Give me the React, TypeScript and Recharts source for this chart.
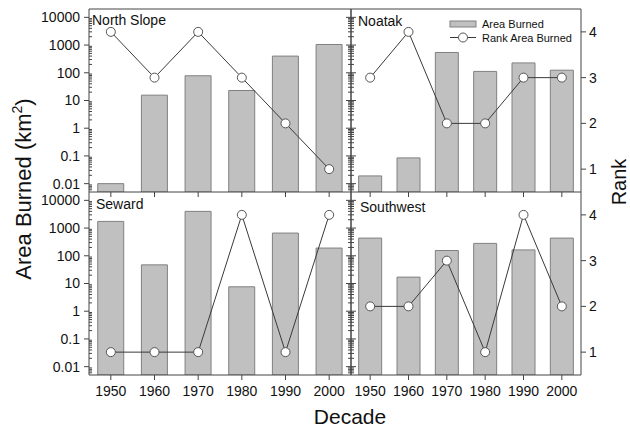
import React from "react";
import { ComposedChart, Bar, Line, XAxis, YAxis } from "recharts";

// decades on the x axis
const decades = ["1950", "1960", "1970", "1980", "1990", "2000"];

// area burned (km2) per decade
const northSlopeArea = [0.01, 15.6, 78, 23, 400, 1050];
const noatakArea = [0.019, 0.085, 540, 112, 227, 124];
const sewardArea = [1740, 47, 4000, 7.6, 660, 190];
const southwestArea = [435, 17, 155, 280, 163, 435];

// rank of area burned per decade
const northSlopeRank = [4, 3, 4, 3, 2, 1];
const noatakRank = [3, 4, 2, 2, 3, 3];
const sewardRank = [1, 1, 1, 4, 1, 4];
const southwestRank = [2, 2, 3, 1, 4, 2];

const areaTicks = [0.01, 0.1, 1, 10, 100, 1000, 10000];
const areaTickLabels = ["0.01", "0.1", "1", "10", "100", "1000", "10000"];
const rankTicks = [1, 2, 3, 4];

const AREA_DOMAIN = [0.005, 20000];
const RANK_DOMAIN = [0.5, 4.5];

// minor log ticks (2..9 x each decade) for the axis decoration
const minorTicks: number[] = [];
for (let e = -3; e <= 4; e++) {
  for (let m = 2; m <= 9; m++) {
    const v = +(m * Math.pow(10, e)).toPrecision(3);
    if (v > AREA_DOMAIN[0] && v < AREA_DOMAIN[1]) minorTicks.push(v);
  }
}
const allAreaTicks = [...areaTicks, ...minorTicks].sort((a, b) => a - b);

const FONT = "'Liberation Sans', Arial, sans-serif";
const AXIS = "#444";

const build = (area: number[], rank: number[]) =>
  decades.map((d, i) => ({ decade: d, area: area[i], rank: rank[i] }));

// plot area edges
const L = 89;
const M = 351;
const R = 581;
const T = 9;
const MID = 192;
const B = 375;
const PAD = 4;

// major ticks point out of the panel, minor ones point in
function LogTick(props: any) {
  const { x, y, payload, side, showLabel } = props;
  const idx = areaTicks.indexOf(payload.value);
  const major = idx >= 0;
  const out = side === "left" ? -1 : 1;
  const x2 = major ? x + out * 5 : x - out * 3;
  return (
    <g>
      <line x1={x} x2={x2} y1={y} y2={y} stroke={AXIS} strokeWidth={1} />
      {showLabel && major && (
        <text x={x - 9} y={y} dy="0.35em" textAnchor="end" fontSize={14} fill="#111" fontFamily={FONT}>
          {areaTickLabels[idx]}
        </text>
      )}
    </g>
  );
}

interface PanelProps {
  area: number[];
  rank: number[];
  isLeft: boolean;
  isBottom: boolean;
}

function Panel({ area, rank, isLeft, isBottom }: PanelProps) {
  const x0 = isLeft ? L : M;
  const x1 = isLeft ? M : R;
  const y0 = isBottom ? MID : T;
  const y1 = isBottom ? B : MID;
  const leftW = isLeft ? 60 : 1;
  const rightW = isLeft ? 1 : 40;
  const bottomH = isBottom ? 34 : 8;
  const topH = isBottom ? 0 : 1;
  const width = x1 - x0 + leftW + rightW + 2 * PAD;
  const height = y1 - y0 + bottomH + topH + 2 * PAD;
  const data = build(area, rank);

  return (
    <div style={{ position: "absolute", left: x0 - leftW - PAD, top: y0 - topH - PAD }}>
      <ComposedChart
        width={width}
        height={height}
        data={data}
        margin={{ top: PAD, right: PAD, bottom: PAD, left: PAD }}
        barCategoryGap="20%"
      >
        <XAxis
          dataKey="decade"
          height={bottomH}
          interval={0}
          tickSize={5}
          tickMargin={6}
          stroke={AXIS}
          tick={{ fontSize: 14, fill: "#111", fontFamily: FONT }}
          tickFormatter={isBottom ? undefined : () => ""}
        />
        {!isBottom && (
          <XAxis xAxisId="top" dataKey="decade" orientation="top" height={1} tick={false} tickLine={false} stroke={AXIS} />
        )}
        <YAxis
          yAxisId="area"
          orientation="left"
          scale="log"
          type="number"
          domain={AREA_DOMAIN}
          allowDataOverflow
          ticks={allAreaTicks}
          interval={0}
          tickSize={0}
          tickMargin={0}
          width={leftW}
          stroke={AXIS}
          tick={<LogTick side="left" showLabel={isLeft} />}
        />
        {isLeft && (
          <YAxis
            yAxisId="areaR"
            orientation="right"
            scale="log"
            type="number"
            domain={AREA_DOMAIN}
            allowDataOverflow
            ticks={allAreaTicks}
            interval={0}
            tickSize={0}
            tickMargin={0}
            width={1}
            stroke={AXIS}
            tick={<LogTick side="right" showLabel={false} />}
          />
        )}
        <YAxis
          yAxisId="rank"
          orientation="right"
          type="number"
          domain={RANK_DOMAIN}
          ticks={rankTicks}
          interval={0}
          hide={isLeft}
          width={40}
          tickSize={5}
          tickMargin={3}
          stroke={AXIS}
          tick={{ fontSize: 14, fill: "#111", fontFamily: FONT }}
        />
        <Bar
          yAxisId="area"
          dataKey="area"
          fill="#c0c0c0"
          stroke="#808080"
          strokeWidth={1}
          isAnimationActive={false}
        />
        <Line
          yAxisId="rank"
          dataKey="rank"
          type="linear"
          stroke="#3a3a3a"
          strokeWidth={1}
          dot={{ r: 4.5, fill: "#fff", stroke: "#555", strokeWidth: 1 }}
          isAnimationActive={false}
        />
      </ComposedChart>
    </div>
  );
}

export default function App() {
  return (
    <div style={{ position: "absolute", left: 0, top: 0, width: 630, height: 430, background: "#fff", fontFamily: FONT }}>
      <Panel area={northSlopeArea} rank={northSlopeRank} isLeft isBottom={false} />
      <Panel area={noatakArea} rank={noatakRank} isLeft={false} isBottom={false} />
      <Panel area={sewardArea} rank={sewardRank} isLeft isBottom />
      <Panel area={southwestArea} rank={southwestRank} isLeft={false} isBottom />
      <svg width={630} height={430} style={{ position: "absolute", left: 0, top: 0, pointerEvents: "none" }} fontFamily={FONT}>
        <text x={92} y={25} fontSize={14} fill="#111">North Slope</text>
        <text x={358} y={26} fontSize={14} fill="#111">Noatak</text>
        <text x={96} y={209} fontSize={14} fill="#111">Seward</text>
        <text x={360} y={212} fontSize={14} fill="#111">Southwest</text>

        {/* legend */}
        <rect x={450} y={21} width={26} height={6} fill="#c0c0c0" stroke="#808080" strokeWidth={1} />
        <text x={482} y={28} fontSize={11} fill="#111">Area Burned</text>
        <line x1={450} x2={476} y1={37.5} y2={37.5} stroke="#3a3a3a" strokeWidth={1} />
        <circle cx={463} cy={37.5} r={4.5} fill="#fff" stroke="#555" strokeWidth={1} />
        <text x={482} y={41.5} fontSize={11} fill="#111">Rank Area Burned</text>

        {/* axis titles */}
        <text transform="translate(31,189) rotate(-90)" textAnchor="middle" fontSize={22} fill="#111">
          Area Burned (km<tspan fontSize={14} dy={-9}>2</tspan><tspan dy={9}>)</tspan>
        </text>
        <text transform="translate(626,182) rotate(-90)" textAnchor="middle" fontSize={20} fill="#111">Rank</text>
        <text x={350} y={424} textAnchor="middle" fontSize={21} fill="#111">Decade</text>
      </svg>
    </div>
  );
}
